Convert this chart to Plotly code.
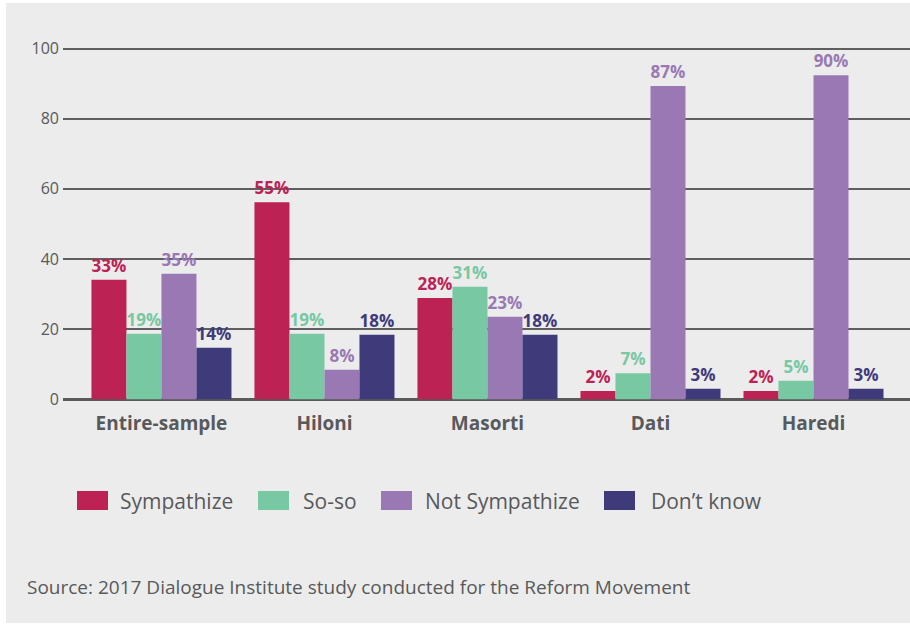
import plotly.graph_objects as go

categories = ["Entire-sample", "Hiloni", "Masorti", "Dati", "Haredi"]
series_names = ["Sympathize", "So-so", "Not Sympathize", "Don\u2019t know"]

# bar heights as drawn in the picture
sympathize = [34.1, 56.2, 28.9, 2.4, 2.4]
so_so = [18.7, 18.7, 32.1, 7.4, 5.3]
not_sympathize = [35.8, 8.4, 23.5, 89.3, 92.4]
dont_know = [14.7, 18.4, 18.4, 3.0, 3.0]

# printed labels
sympathize_labels = ["33%", "55%", "28%", "2%", "2%"]
so_so_labels = ["19%", "19%", "31%", "7%", "5%"]
not_sympathize_labels = ["35%", "8%", "23%", "87%", "90%"]
dont_know_labels = ["14%", "18%", "18%", "3%", "3%"]

y_ticks = [0, 20, 40, 60, 80, 100]
source_text = "Source: 2017 Dialogue Institute study conducted for the Reform Movement"

colors = ["#BC2354", "#77C8A3", "#9A78B4", "#3F3A7A"]
values = [sympathize, so_so, not_sympathize, dont_know]
labels = [sympathize_labels, so_so_labels, not_sympathize_labels, dont_know_labels]

FONT = "Open Sans"
GRAY = "#58595B"

W, H = 910, 632
ML, MR, MT, MB = 63, 0, 45, 232
PW, PH = W - ML - MR, H - MT - MB


def px(x):
    return (x - ML) / PW


def py(y):
    return (H - MB - y) / PH


fig = go.Figure()
for name, vals, labs, col in zip(series_names, values, labels, colors):
    fig.add_trace(go.Bar(
        x=categories, y=vals, name=name, marker=dict(color=col, line=dict(width=0)),
        text=labs, textposition="outside", constraintext="none", cliponaxis=False,
        textfont=dict(family=FONT, size=17, color=col, weight="bold"),
        showlegend=False, hoverinfo="skip",
    ))

shapes = [dict(type="rect", xref="paper", yref="paper", x0=px(6), x1=px(W + 5),
               y0=py(623), y1=py(3), fillcolor="#ECECEC", line=dict(width=0), layer="below")]
annotations = []
leg_sw = [77, 258, 381, 604]
leg_tx = [118, 301, 423, 649]
for name, col, sx, tx in zip(series_names, colors, leg_sw, leg_tx):
    shapes.append(dict(type="rect", xref="paper", yref="paper", x0=px(sx), x1=px(sx + 31),
                       y0=py(510), y1=py(491), fillcolor=col, line=dict(width=0)))
    annotations.append(dict(xref="paper", yref="paper", x=px(tx), y=py(501), text=name,
                            showarrow=False, xanchor="left", yanchor="middle",
                            font=dict(family=FONT, size=21, color=GRAY)))
annotations.append(dict(xref="paper", yref="paper", x=px(25), y=py(587), text=source_text,
                        showarrow=False, xanchor="left", yanchor="middle",
                        font=dict(family=FONT, size=19, color=GRAY)))

fig.update_layout(
    width=W, height=H, margin=dict(l=ML, r=MR, t=MT, b=MB, pad=0),
    paper_bgcolor="white", plot_bgcolor="rgba(0,0,0,0)",
    barmode="group", bargap=0.141, bargroupgap=0,
    font=dict(family=FONT, color=GRAY),
    shapes=shapes, annotations=annotations,
    xaxis=dict(range=[-0.604, 4.592], showgrid=False, showline=False, zeroline=False,
               ticks="", tickfont=dict(family=FONT, size=19, color=GRAY, weight="bold"),
               ticklabelstandoff=10, fixedrange=True),
    yaxis=dict(range=[-0.2, 101], tickvals=y_ticks, showgrid=True, gridcolor="#5e5e5e",
               gridwidth=1.8, zeroline=True, zerolinecolor="#5a5a5a", zerolinewidth=2.6,
               showline=False, ticks="", tickfont=dict(family=FONT, size=16, color=GRAY),
               ticklabelstandoff=3, fixedrange=True),
)

fig.write_html("out.html", config={"displayModeBar": False},
               post_script="document.body.style.margin='0';")
